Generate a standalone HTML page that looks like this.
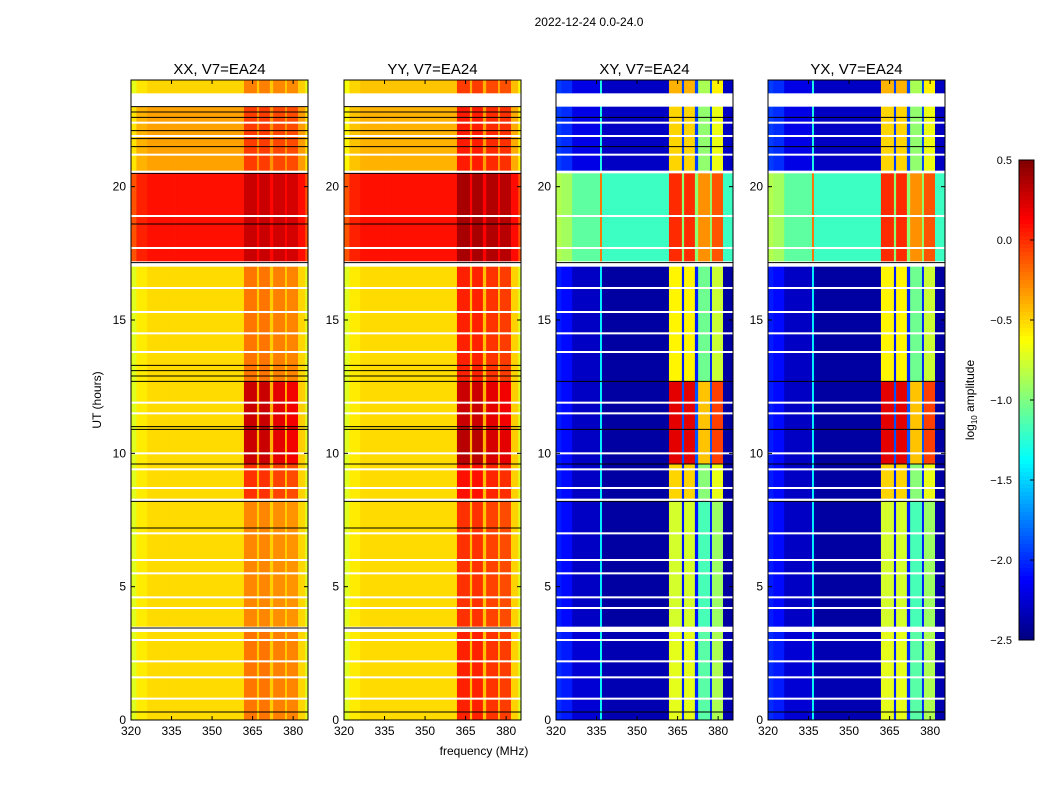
<!DOCTYPE html>
<html><head><meta charset="utf-8">
<style>
body{margin:0;background:#fff;font-family:"Liberation Sans",sans-serif;}
svg text{font-family:"Liberation Sans",sans-serif;}
</style></head>
<body>
<svg id="fig" width="1050" height="800" xmlns="http://www.w3.org/2000/svg">
<rect width="1050" height="800" fill="#fff"/>
<text x="589" y="26" font-size="12" text-anchor="middle">2022-12-24 0.0-24.0</text>
<text x="484" y="755" font-size="12" text-anchor="middle">frequency (MHz)</text>
<text x="101" y="400" font-size="12" text-anchor="middle" transform="rotate(-90 101 400)">UT (hours)</text>
<text x="974" y="400" font-size="12" text-anchor="middle" transform="rotate(-90 974 400)">log<tspan font-size="8" dy="3">10</tspan><tspan dy="-3"> amplitude</tspan></text>
<g id="panels"></g>
<g id="cbar"></g>
</svg>
<script>
// ---- data ----
const panelTitles = ["XX, V7=EA24","YY, V7=EA24","XY, V7=EA24","YX, V7=EA24"];
const freqEdges = [320,322,326,336.3,337,361.8,366.6,367.4,371.4,372.6,377.0,377.7,381.8,384.5,385.5];
const stripeWeightPar   = [0,0,0,0,0,1,0.15,1,0.15,0.9,0.15,0.85,0.05,0];
const stripeWeightCross = [0,0,0,0,0,1,0.2,1,0.2,0.75,0.2,0.9,0,0];
const colOffsetPar   = [-0.2,-0.05,0,0,0,0,0,0,0,0,0,0,0,-0.2];
const colOffsetCross = [0.35,0.3,0.1,1.0,0,0,0,0,0,0,0,0,0,0];
const segStart = [0,3.5,8.3,9.6,10.9,12.7,17.2,20.6,23.5];
const segEnd   = [3.3,8.2,9.6,10.9,12.7,17.0,20.5,23.0,24];
const baseXX = [-0.52,-0.52,-0.52,-0.52,-0.52,-0.52,0.08,-0.35,-0.5];
const stripeXX = [0.3,0.25,0.5,0.8,0.8,0.3,0.2,0.3,0.25];
const baseYY = [-0.52,-0.52,-0.52,-0.52,-0.52,-0.52,0.08,-0.4,-0.45];
const stripeYY = [0.55,0.5,0.6,0.85,0.8,0.55,0.3,0.45,0.4];
const baseXY = [-2.35,-2.4,-2.4,-2.4,-2.4,-2.4,-1.2,-2.3,-2.3];
const stripeXY = [1.65,1.65,1.9,2.6,2.6,1.8,1.2,1.8,1.9];
const baseYX = [-2.35,-2.4,-2.4,-2.4,-2.4,-2.4,-1.2,-2.3,-2.3];
const stripeYX = [1.65,1.65,1.9,2.6,2.6,1.8,1.2,1.8,1.9];
const whiteLines = [0.8,1.6,2.2,3.0,3.4,4.2,4.6,5.5,6.0,7.0,8.25,8.7,9.4,10.0,11.5,11.9,13.8,14.5,15.3,16.2,17.1,17.7,18.9,20.55,21.2,21.9,22.4,23.1,23.3,23.45];
const blackLinesPar = [0.3,3.45,7.2,8.2,9.6,10.9,11.0,12.7,12.9,13.1,13.3,17.15,18.6,20.5,21.5,21.8,22.1,22.6,22.8,23.0];
const blackLinesCross = [0.3,8.2,9.6,10.9,12.7,17.15,21.5,22.6];
const cbTicks = [0.5,0.0,-0.5,-1.0,-1.5,-2.0,-2.5];
const xTicks = [320,335,350,365,380];
const yTicks = [0,5,10,15,20];

const panelX = [131,344,556,768], panelW = 177, pTop = 80, pBottom = 720;
const vmin=-2.5, vmax=0.5;
function jet(v){let t=(v-vmin)/(vmax-vmin);t=Math.max(0,Math.min(1,t));
 const f=x=>Math.round(255*Math.max(0,Math.min(1,x)));
 return `rgb(${f(1.5-Math.abs(4*t-3))},${f(1.5-Math.abs(4*t-2))},${f(1.5-Math.abs(4*t-1))})`;}
const NS="http://www.w3.org/2000/svg";
function el(tag,attrs,parent){const e=document.createElementNS(NS,tag);for(const k in attrs)e.setAttribute(k,attrs[k]);parent.appendChild(e);return e;}
const G=document.getElementById('panels');
const bases=[baseXX,baseYY,baseXY,baseYX], stripes=[stripeXX,stripeYY,stripeXY,stripeYX];
panelTitles.forEach((title,p)=>{
 const x0=panelX[p];
 const xs=f=>x0+(f-320)/(385.5-320)*panelW;
 const ys=h=>pBottom-(h/24)*(pBottom-pTop);
 const g=el('g',{},G);
 
 
 el('rect',{x:x0,y:pTop,width:panelW,height:pBottom-pTop,fill:'#fff'},g);
 const cross=p>=2;
 const offs=cross?colOffsetCross:colOffsetPar;
 const sw=cross?stripeWeightCross:stripeWeightPar;
 segStart.forEach((s,si)=>{
  for(let c=0;c<freqEdges.length-1;c++){
   const v=bases[p][si]+offs[c]+sw[c]*stripes[p][si];
   const r=el('rect',{x:xs(freqEdges[c]),y:ys(segEnd[si]),width:xs(freqEdges[c+1])-xs(freqEdges[c])+0.3,height:ys(s)-ys(segEnd[si]),fill:jet(v)},g);
   
   
  }
 });
 whiteLines.forEach(h=>{el('rect',{x:x0,y:ys(h)-1,width:panelW,height:2,fill:'#fff'},g);});
 (cross?blackLinesCross:blackLinesPar).forEach(h=>{el('line',{x1:x0,x2:x0+panelW,y1:ys(h),y2:ys(h),stroke:'#000','stroke-width':1},g);});
 el('rect',{x:x0,y:pTop,width:panelW,height:pBottom-pTop,fill:'none',stroke:'#000','stroke-width':1},g);
 const t=el('text',{x:x0+panelW/2,y:74,'font-size':15,'text-anchor':'middle'},g);t.textContent=title;
 
 
 xTicks.forEach(f=>{const x=xs(f);
  el('line',{x1:x,x2:x,y1:pBottom,y2:pBottom-4,stroke:'#000'},g);el('line',{x1:x,x2:x,y1:pTop,y2:pTop+4,stroke:'#000'},g);
  const tt=el('text',{x:x,y:pBottom+15,'font-size':12,'text-anchor':'middle'},g);tt.textContent=f;
  
  });
 yTicks.forEach(h=>{const y=ys(h);
  el('line',{x1:x0,x2:x0+4,y1:y,y2:y,stroke:'#000'},g);el('line',{x1:x0+panelW,x2:x0+panelW-4,y1:y,y2:y,stroke:'#000'},g);
  const tt=el('text',{x:x0-5,y:y+4,'font-size':12,'text-anchor':'end'},g);tt.textContent=h;
  
  });
});
// colorbar
const C=document.getElementById('cbar');


const cbTop=160,cbBot=640,cbX=1019,cbW=15;
for(let i=0;i<120;i++){const v=vmax-(i+0.5)/120*(vmax-vmin);
 el('rect',{x:cbX,y:cbTop+i*(cbBot-cbTop)/120,width:cbW,height:(cbBot-cbTop)/120+0.5,fill:jet(v)},C);}
el('rect',{x:cbX,y:cbTop,width:cbW,height:cbBot-cbTop,fill:'none',stroke:'#000'},C);
cbTicks.forEach(v=>{const y=cbTop+(vmax-v)/(vmax-vmin)*(cbBot-cbTop);
 el('line',{x1:cbX+cbW-4,x2:cbX+cbW,y1:y,y2:y,stroke:'#000'},C);
 const t=el('text',{x:cbX-7,y:y+4,'font-size':11,'text-anchor':'end'},C);t.textContent=(v<0?'\u2212':'')+Math.abs(v).toFixed(1);
 
 });
</script>
</body></html>
